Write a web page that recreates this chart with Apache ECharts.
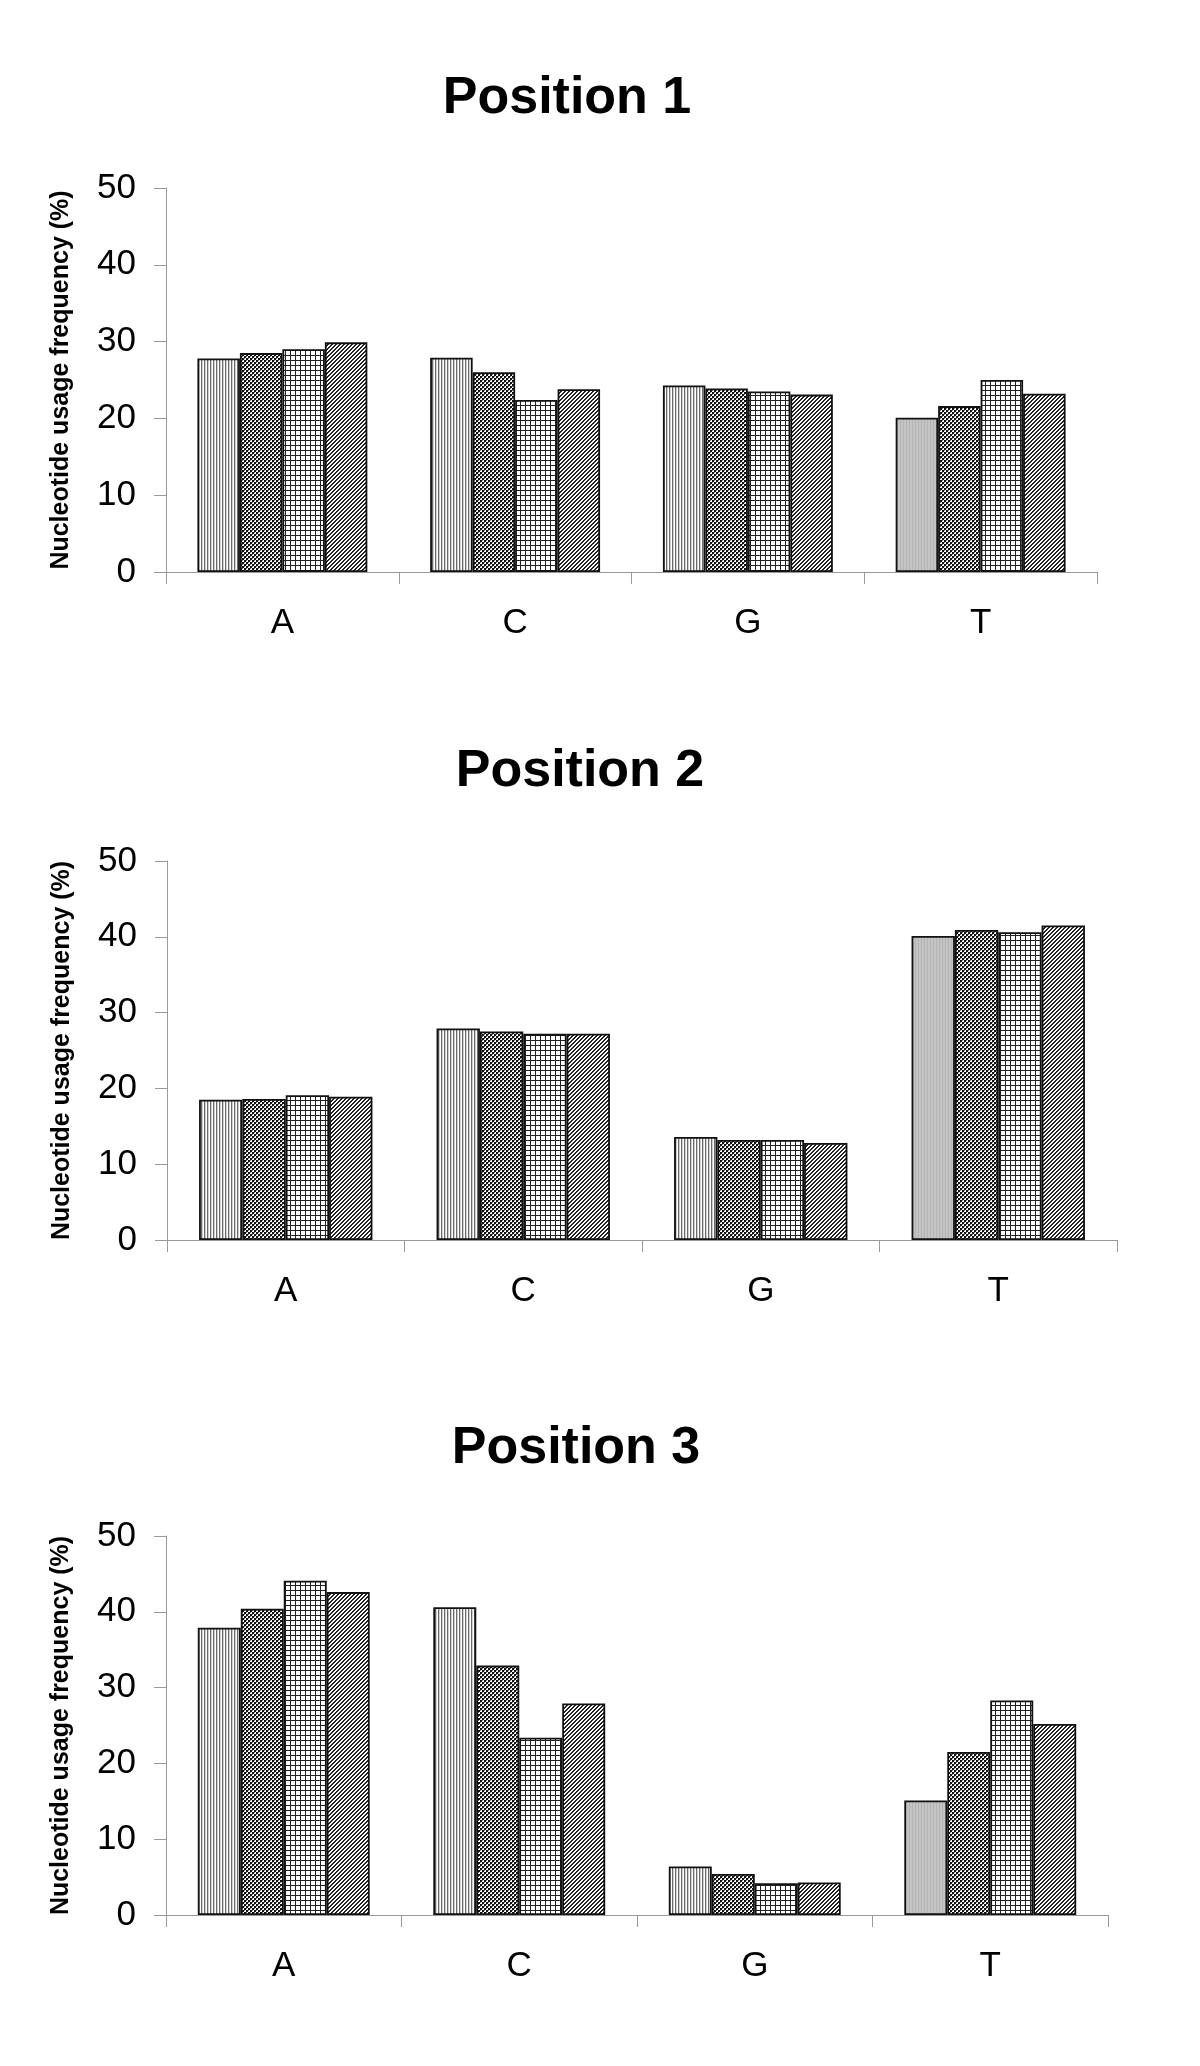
<!DOCTYPE html>
<html>
<head>
<meta charset="utf-8">
<script src="https://cdn.jsdelivr.net/npm/echarts@6/dist/echarts.min.js"></script>
<style>
html,body{margin:0;padding:0;background:#fff;}
#chart{width:1200px;height:2066px;}
</style>
</head>
<body>
<div id="chart"></div>
<script>
// ---- data ----
const categories = ['A', 'C', 'G', 'T'];
const yTicks = [0, 10, 20, 30, 40, 50];
const titles = ['Position 1', 'Position 2', 'Position 3'];
const yAxisName = 'Nucleotide usage frequency (%)';
const seriesNames = ['Set 1', 'Set 2', 'Set 3', 'Set 4'];

// Position 1 (values for A, C, G, T)
const pos1Set1 = [27.8, 27.9, 24.3, 20.1];
const pos1Set2 = [28.5, 26.0, 23.9, 21.6];
const pos1Set3 = [29.0, 22.4, 23.5, 25.0];
const pos1Set4 = [29.9, 23.8, 23.1, 23.2];
// Position 2
const pos2Set1 = [18.5, 27.9, 13.6, 40.1];
const pos2Set2 = [18.6, 27.5, 13.2, 40.9];
const pos2Set3 = [19.1, 27.2, 13.2, 40.6];
const pos2Set4 = [18.9, 27.2, 12.8, 41.5];
// Position 3
const pos3Set1 = [37.9, 40.6, 6.4, 15.1];
const pos3Set2 = [40.4, 32.9, 5.4, 21.5];
const pos3Set3 = [44.1, 23.4, 4.2, 28.3];
const pos3Set4 = [42.6, 27.9, 4.3, 25.2];

const positions = [
  [pos1Set1, pos1Set2, pos1Set3, pos1Set4],
  [pos2Set1, pos2Set2, pos2Set3, pos2Set4],
  [pos3Set1, pos3Set2, pos3Set3, pos3Set4]
];

// ---- patterns ----
function makePattern(w, h, draw) {
  const c = document.createElement('canvas');
  c.width = w; c.height = h;
  const g = c.getContext('2d');
  g.fillStyle = '#ffffff';
  g.fillRect(0, 0, w, h);
  draw(g);
  return { image: c, repeat: 'repeat' };
}
const patVertical = makePattern(3, 3, g => {
  g.fillStyle = '#6a6a6a'; g.fillRect(0, 0, 1, 3);
  g.fillStyle = '#cfcfcf'; g.fillRect(1, 0, 1, 3);
});
// the same stripes as they appear (moire) on the T bars of the reference
const patVerticalSoft = makePattern(3, 3, g => {
  g.fillStyle = '#c4c4c4'; g.fillRect(0, 0, 3, 3);
  g.fillStyle = '#b4b4b4'; g.fillRect(0, 0, 1, 3);
});
const patChecker = makePattern(4, 4, g => {
  g.fillStyle = '#111';
  g.fillRect(0, 0, 2, 2); g.fillRect(2, 2, 2, 2);
  g.fillStyle = '#777';
  g.fillRect(2, 0, 1, 1); g.fillRect(0, 2, 1, 1);
});
const patGrid = makePattern(5, 5, g => {
  g.fillStyle = '#222';
  g.fillRect(0, 0, 5, 1); g.fillRect(0, 0, 1, 5);
});
const patDiag = makePattern(4, 4, g => {
  g.fillStyle = '#222';
  for (let i = 0; i < 4; i++) {
    g.fillRect(i, 3 - i, 1, 1);
    g.fillRect(i, (4 - i) % 4, 1, 1);
  }
});
const patterns = [patVertical, patChecker, patGrid, patDiag];

// ---- layout ----
const grids = [
  { left: 166, top: 188, width: 931, height: 384 },
  { left: 167, top: 861, width: 950, height: 379 },
  { left: 166, top: 1536, width: 942, height: 379 }
];
const titlePos = [[567, 99], [580, 772], [576, 1449]];
const FONT = '"Liberation Sans", Arial, Helvetica, sans-serif';

const option = {
  animation: false,
  backgroundColor: '#ffffff',
  textStyle: { fontFamily: FONT },
  title: titles.map((t, i) => ({
    text: t,
    left: titlePos[i][0],
    top: titlePos[i][1],
    padding: 0,
    textAlign: 'center',
    textVerticalAlign: 'middle',
    textStyle: { fontFamily: FONT, fontSize: 52, fontWeight: 'bold', color: '#000' }
  })),
  grid: grids.map(g => Object.assign({ containLabel: false }, g)),
  xAxis: grids.map((g, i) => ({
    type: 'category',
    gridIndex: i,
    data: categories,
    axisLine: { lineStyle: { color: '#999', width: 1 } },
    axisTick: { show: true, length: 12, lineStyle: { color: '#999' } },
    axisLabel: { fontSize: 35, color: '#000', margin: 34, fontFamily: FONT },
    splitLine: { show: false }
  })),
  yAxis: grids.map((g, i) => ({
    type: 'value',
    gridIndex: i,
    min: yTicks[0],
    max: yTicks[yTicks.length - 1],
    interval: yTicks[1] - yTicks[0],
    name: yAxisName,
    nameLocation: 'middle',
    nameRotate: 90,
    nameGap: 92,
    nameTextStyle: { fontSize: 25, fontWeight: 'bold', color: '#000', fontFamily: FONT },
    axisLine: { show: true, lineStyle: { color: '#999', width: 1 } },
    axisTick: { show: true, length: 12, lineStyle: { color: '#999' } },
    axisLabel: { fontSize: 35, color: '#000', margin: 30, fontFamily: FONT },
    splitLine: { show: false }
  })),
  series: []
};

positions.forEach((sets, gi) => {
  sets.forEach((vals, si) => {
    const data = vals.map((v, ci) =>
      (si === 0 && categories[ci] === 'T')
        ? { value: v, itemStyle: { color: patVerticalSoft } }
        : v);
    option.series.push({
      type: 'bar',
      name: seriesNames[si],
      xAxisIndex: gi,
      yAxisIndex: gi,
      data: data,
      barGap: '0%',
      barCategoryGap: '27%',
      itemStyle: { color: patterns[si], borderColor: '#111', borderWidth: 1.8 }
    });
  });
});

const chart = echarts.init(document.getElementById('chart'), null, { renderer: 'canvas' });
chart.setOption(option);
</script>
</body>
</html>
